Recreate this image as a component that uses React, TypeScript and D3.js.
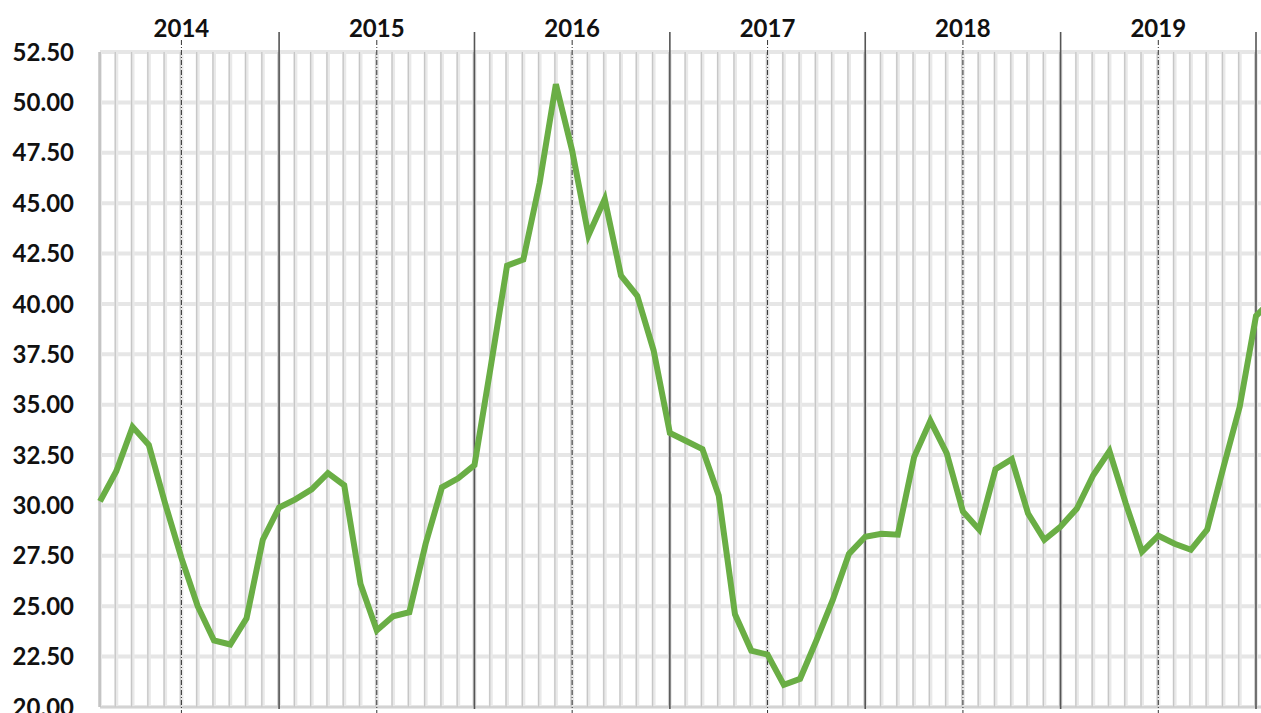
import React from 'react';
import * as d3 from 'd3';

// monthly series, first point = Feb 2014, year boundaries fall on January
const years = ['2014', '2015', '2016', '2017', '2018', '2019'];
const values = [
  30.2, 31.7, 33.9, 33.0, 30.1, 27.4, 25.0, 23.3, 23.1, 24.4, 28.3,
  29.9, 30.3, 30.8, 31.6, 31.0, 26.1, 23.8, 24.5, 24.7, 28.1, 30.9, 31.35,
  32.0, 36.9, 41.9, 42.2, 46.0, 50.9, 47.6, 43.4, 45.2, 41.4, 40.4, 37.7,
  33.6, 33.2, 32.8, 30.5, 24.6, 22.8, 22.6, 21.1, 21.4, 23.3, 25.3, 27.6,
  28.45, 28.6, 28.55, 32.4, 34.2, 32.6, 29.7, 28.8, 31.8, 32.3, 29.6, 28.3,
  28.95, 29.85, 31.5, 32.7, 30.1, 27.7, 28.5, 28.1, 27.8, 28.8, 31.9, 34.9,
  39.4, 40.2
];
const yTicks = [20, 22.5, 25, 27.5, 30, 32.5, 35, 37.5, 40, 42.5, 45, 47.5, 50, 52.5];

const width = 1261;
const height = 713;
const margin = { top: 52, right: 0, bottom: 6, left: 100 };
const firstJan = 11; // index of Jan 2015

function App() {
  const x = d3.scaleLinear()
    .domain([0, 71])
    .range([margin.left, 1256]);

  const y = d3.scaleLinear()
    .domain([20, 52.5])
    .range([height - margin.bottom, margin.top]);

  const line = d3.line<number>()
    .x((d, i) => x(i))
    .y(d => y(d));

  const months = d3.range(values.length);
  const yearStarts = years.map((yr, k) => firstJan + k * 12);
  const midYears = years.map((yr, k) => firstJan - 6 + k * 12);

  const font = "Lato, 'Open Sans', sans-serif";

  return (
    <div style={{ position: 'absolute', left: 0, top: 0 }}>
      <svg width={width} height={height} style={{ display: 'block', background: '#fff' }}>
        {/* horizontal grid */}
        <g>
          {yTicks.map(t => (
            <line key={t} x1={margin.left} x2={width} y1={y(t)} y2={y(t)}
              stroke="#e6e6e6" strokeWidth={4} />
          ))}
        </g>
        {/* monthly vertical grid */}
        <g>
          {months.map(i => (
            <g key={i}>
              <line x1={x(i)} x2={x(i)} y1={y(52.5)} y2={y(20)} stroke="#e9e9e9" strokeWidth={4} />
              <line x1={x(i) - 1} x2={x(i) - 1} y1={y(52.5)} y2={y(20)} stroke="#c6c6c6" strokeWidth={1.3} />
            </g>
          ))}
        </g>
        <line x1={margin.left} x2={width} y1={y(20)} y2={y(20)} stroke="#cccccc" strokeWidth={1.5} />
        <line x1={margin.left} x2={margin.left} y1={y(52.5)} y2={y(20)} stroke="#c4c4c4" strokeWidth={2} />

        {/* mid-year dash-dot lines */}
        <g>
          {midYears.map(i => (
            <line key={i} x1={x(i)} x2={x(i)} y1={40} y2={height}
              stroke="#333" strokeWidth={1} strokeDasharray="5,2,1,2" />
          ))}
        </g>
        {/* year boundaries */}
        <g>
          {yearStarts.map(i => (
            <line key={i} x1={x(i)} x2={x(i)} y1={32} y2={height - 4}
              stroke="#555" strokeWidth={1.6} />
          ))}
        </g>

        <path d={line(values) || ''} fill="none" stroke="#6aae45" strokeWidth={6}
          strokeLinejoin="miter" strokeLinecap="butt" />

        {/* year labels */}
        <g fontFamily={font} fontWeight="bold" fontSize={24} fill="#111" textAnchor="middle">
          {years.map((yr, k) => (
            <text key={yr} x={x(midYears[k])} y={37}>{yr}</text>
          ))}
        </g>
        {/* y labels */}
        <g fontFamily={font} fontWeight="bold" fontSize={24} fill="#111" textAnchor="end">
          {yTicks.map(t => (
            <text key={t} x={74} y={y(t)} dy="0.36em">{d3.format('.2f')(t)}</text>
          ))}
        </g>
      </svg>
    </div>
  );
}

export default App;
